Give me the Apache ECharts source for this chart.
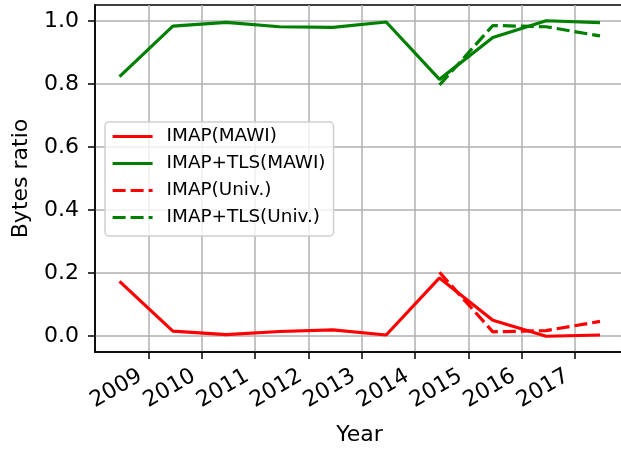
<!DOCTYPE html>
<html>
<head>
<meta charset="utf-8">
<script src="https://cdn.jsdelivr.net/npm/echarts@6/dist/echarts.min.js"></script>
<style>html,body{margin:0;padding:0;background:#fff}#c{width:621px;height:450px}</style>
</head>
<body>
<div id="c"></div>
<script>
// Sample positions (fractional year, mid-year snapshots)
const xPos = [2008.46, 2009.46, 2010.46, 2011.46, 2012.46, 2013.46, 2014.46, 2015.46, 2016.46, 2017.47];
const xPosUniv = [2014.46, 2015.46, 2016.46, 2017.47];
const yearTicks = [2009, 2010, 2011, 2012, 2013, 2014, 2015, 2016, 2017];
const ratioTicks = [0, 0.2, 0.4, 0.6, 0.8, 1.0];

const imapMawi    = [0.174, 0.016, 0.005, 0.015, 0.020, 0.004, 0.185, 0.051, 0.000, 0.004];
const imapTlsMawi = [0.824, 0.984, 0.996, 0.982, 0.980, 0.997, 0.815, 0.948, 1.001, 0.995];
const imapUniv    = [0.203, 0.014, 0.018, 0.047];
const imapTlsUniv = [0.797, 0.986, 0.982, 0.953];

const pair = (xs, ys) => xs.map((x, i) => [x, ys[i]]);
const FONT = 'DejaVu Sans';

const chart = echarts.init(document.getElementById('c'), null, {renderer: 'canvas'});
const mk = (name, xs, ys, color, dashed) => ({
  name, type: 'line', data: pair(xs, ys), symbol: 'none', smooth: false,
  lineStyle: {color, width: 3.2, type: dashed ? [13, 5] : 'solid', cap: 'butt'},
  itemStyle: {color}, z: 3, animation: false
});
chart.setOption({
  animation: false,
  backgroundColor: '#fff',
  grid: {left: 95, top: 5, right: -3, bottom: 98, show: true, borderColor: '#000', borderWidth: 1.5, backgroundColor: 'transparent', containLabel: false, outerBoundsMode: 'none'},
  legend: {
    orient: 'vertical', left: 105, top: 122,
    itemWidth: 40, itemHeight: 14, itemGap: 8,
    padding: [5, 8, 9, 6],
    backgroundColor: 'rgba(255,255,255,0.8)', borderColor: '#d0d0d0', borderWidth: 1.5, borderRadius: 4,
    itemStyle: {opacity: 0},
    lineStyle: {width: 3.2},
    textStyle: {fontFamily: FONT, fontSize: 18.4, lineHeight: 19, color: '#000', padding: [0, 0, 0, 9]},
    data: ['IMAP(MAWI)', 'IMAP+TLS(MAWI)', 'IMAP(Univ.)', 'IMAP+TLS(Univ.)']
  },
  xAxis: {
    type: 'value', min: 2008.0, max: 2017.92,
    name: 'Year', nameLocation: 'middle', nameGap: 72,
    nameTextStyle: {fontFamily: FONT, fontSize: 22, color: '#000'},
    axisLine: {show: true, onZero: false, lineStyle: {color: '#000', width: 1.5}},
    axisTick: {show: true, customValues: yearTicks, length: 7, lineStyle: {color: '#000', width: 1.5}},
    axisLabel: {customValues: yearTicks, rotate: 30, margin: 18, padding: [0, 9, 0, 0], fontFamily: FONT, fontSize: 22, color: '#000', formatter: v => String(Math.round(v))},
    splitLine: {show: true, lineStyle: {color: '#b0b0b0', width: 1.5}}
  },
  yAxis: {
    type: 'value', min: -0.05, max: 1.051,
    name: 'Bytes ratio', nameLocation: 'middle', nameGap: 63, nameRotate: 90,
    nameTextStyle: {fontFamily: FONT, fontSize: 22, color: '#000'},
    axisLine: {show: true, onZero: false, lineStyle: {color: '#000', width: 1.5}},
    axisTick: {show: true, customValues: ratioTicks, length: 7, lineStyle: {color: '#000', width: 1.5}},
    axisLabel: {customValues: ratioTicks, margin: 16, fontFamily: FONT, fontSize: 22, color: '#000', formatter: v => v.toFixed(1)},
    splitLine: {show: true, lineStyle: {color: '#b0b0b0', width: 1.5}}
  },
  series: [
    mk('IMAP(MAWI)', xPos, imapMawi, '#ff0000', false),
    mk('IMAP+TLS(MAWI)', xPos, imapTlsMawi, '#008000', false),
    mk('IMAP(Univ.)', xPosUniv, imapUniv, '#ff0000', true),
    mk('IMAP+TLS(Univ.)', xPosUniv, imapTlsUniv, '#008000', true)
  ]
});
</script>
</body>
</html>
